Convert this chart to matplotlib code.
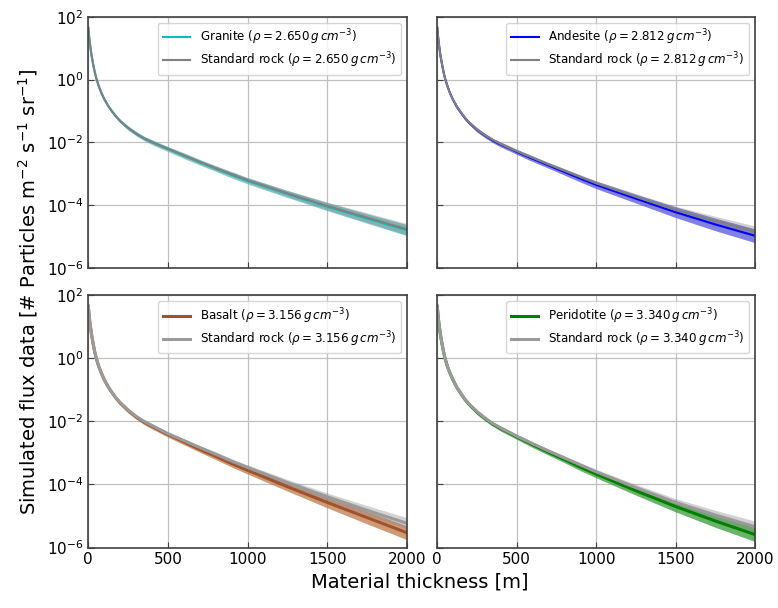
import numpy as np
import matplotlib
matplotlib.use('Agg')
import matplotlib.pyplot as plt

# thickness sample points [m]
thickness = [0, 5, 10, 20, 30, 40, 50, 65, 80, 100, 125, 150, 175, 200, 250, 300, 350,
             400, 450, 500, 600, 700, 800, 900, 1000, 1250, 1500, 1750, 2000]

# log10 of flux
granite = [1.65, 1.38, 1.15, 0.78, 0.50, 0.25, 0.04, -0.20, -0.40, -0.62, -0.84, -1.02, -1.18, -1.32, -1.54,
           -1.72, -1.87, -1.99, -2.10, -2.21, -2.42, -2.63, -2.83, -3.03, -3.22, -3.64, -4.04, -4.42, -4.79]
granite_std = [1.65, 1.38, 1.15, 0.78, 0.50, 0.25, 0.04, -0.20, -0.40, -0.62, -0.84, -1.02, -1.18, -1.32, -1.54,
               -1.72, -1.87, -1.99, -2.10, -2.20, -2.41, -2.62, -2.82, -3.01, -3.20, -3.62, -4.02, -4.39, -4.76]
andesite = [1.65, 1.38, 1.15, 0.77, 0.49, 0.23, 0.02, -0.22, -0.43, -0.65, -0.88, -1.06, -1.23, -1.37, -1.60,
            -1.78, -1.94, -2.07, -2.18, -2.30, -2.52, -2.73, -2.94, -3.15, -3.35, -3.79, -4.22, -4.61, -4.97]
andesite_std = [1.65, 1.38, 1.15, 0.77, 0.49, 0.23, 0.02, -0.22, -0.43, -0.65, -0.87, -1.05, -1.22, -1.36, -1.59,
                -1.77, -1.92, -2.05, -2.17, -2.28, -2.49, -2.70, -2.90, -3.10, -3.30, -3.73, -4.15, -4.50, -4.84]
basalt = [1.65, 1.37, 1.13, 0.76, 0.47, 0.21, 0.00, -0.25, -0.45, -0.68, -0.91, -1.10, -1.27, -1.42, -1.66,
          -1.86, -2.03, -2.16, -2.29, -2.42, -2.65, -2.89, -3.11, -3.34, -3.55, -4.07, -4.57, -5.05, -5.53]
basalt_std = [1.65, 1.37, 1.13, 0.76, 0.47, 0.21, 0.00, -0.25, -0.45, -0.67, -0.90, -1.09, -1.26, -1.40, -1.64,
              -1.84, -2.00, -2.13, -2.26, -2.39, -2.61, -2.83, -3.04, -3.26, -3.46, -3.94, -4.39, -4.82, -5.23]
peridotite = [1.65, 1.37, 1.13, 0.75, 0.46, 0.20, -0.02, -0.27, -0.47, -0.70, -0.94, -1.13, -1.31, -1.46, -1.71,
              -1.91, -2.09, -2.23, -2.36, -2.49, -2.74, -2.98, -3.21, -3.45, -3.67, -4.20, -4.70, -5.16, -5.59]
peridotite_std = [1.65, 1.37, 1.13, 0.75, 0.46, 0.20, -0.02, -0.27, -0.47, -0.69, -0.93, -1.12, -1.30, -1.45, -1.69,
                  -1.89, -2.07, -2.21, -2.34, -2.47, -2.71, -2.94, -3.16, -3.38, -3.60, -4.10, -4.57, -4.97, -5.34]

# half width of the shaded bands (decades)
err_granite = [0.05, 0.05, 0.05, 0.05, 0.05, 0.05, 0.05, 0.05, 0.05, 0.05, 0.06, 0.06, 0.06, 0.06, 0.07,
               0.07, 0.07, 0.08, 0.08, 0.08, 0.09, 0.09, 0.09, 0.10, 0.10, 0.11, 0.13, 0.15, 0.175]
err_rock = [0.05, 0.05, 0.05, 0.05, 0.05, 0.05, 0.05, 0.05, 0.05, 0.05, 0.06, 0.06, 0.06, 0.06, 0.07,
            0.07, 0.07, 0.08, 0.08, 0.08, 0.09, 0.09, 0.10, 0.11, 0.12, 0.14, 0.17, 0.20, 0.22]
err_std = [0.03, 0.03, 0.03, 0.03, 0.03, 0.03, 0.03, 0.03, 0.03, 0.03, 0.04, 0.04, 0.04, 0.04, 0.04,
           0.04, 0.05, 0.05, 0.05, 0.05, 0.06, 0.06, 0.07, 0.07, 0.08, 0.10, 0.12, 0.15, 0.18]

names = ['Granite', 'Andesite', 'Basalt', 'Peridotite']
densities = ['2.650', '2.812', '3.156', '3.340']
colors = ['c', 'b', 'sienna', 'green']
fills = ['#5cbcbc', '#5555e0', '#c07a4a', '#3a9a3a']
mats = [granite, andesite, basalt, peridotite]
stds = [granite_std, andesite_std, basalt_std, peridotite_std]
errs = [err_granite, err_rock, err_rock, err_rock]

fig = plt.figure(figsize=(7.78, 6.08), dpi=100)
positions = [[0.1135, 0.5590, 0.4093, 0.4135],
             [0.5620, 0.5590, 0.4085, 0.4135],
             [0.1135, 0.0995, 0.4093, 0.4150],
             [0.5620, 0.0995, 0.4085, 0.4150]]

x = np.array(thickness)
for i in range(4):
    ax = fig.add_axes(positions[i])
    m = np.array(mats[i]); s = np.array(stds[i]); e = np.array(errs[i]); es = np.array(err_std)
    lw = 1.5 if i < 2 else 2.2
    std_col = 'gray' if i < 2 else '#9a9a9a'
    ax.fill_between(x, 10**(m - e), 10**(m + e), color=fills[i], alpha=0.75, lw=0)
    ax.plot(x, 10**m, color=colors[i], lw=lw,
            label=names[i] + r' ($\rho = %s\,g\,cm^{-3}$)' % densities[i])
    ax.fill_between(x, 10**(s - es), 10**(s + es), color='gray', alpha=0.35, lw=0)
    ax.plot(x, 10**s, color=std_col, lw=lw,
            label=r'Standard rock ($\rho = %s\,g\,cm^{-3}$)' % densities[i])
    ax.set_yscale('log')
    ax.set_xlim(0, 2000)
    ax.set_ylim(1e-6, 1e2)
    ax.set_yticks([1e-6, 1e-4, 1e-2, 1e0, 1e2])
    ax.set_xticks([0, 500, 1000, 1500, 2000])
    ax.minorticks_off()
    ax.grid(True, color='#c0c0c0', lw=0.9)
    ax.set_axisbelow(True)
    ax.tick_params(direction='in', labelsize=11, length=4, color='0.25')
    for sp in ax.spines.values():
        sp.set_color('0.25')
        sp.set_linewidth(1.2)
    if i < 2:
        ax.set_xticklabels([])
    if i % 2 == 1:
        ax.set_yticklabels([])
    ax.legend(loc='upper right', fontsize=8.6, framealpha=0.8, edgecolor='#cccccc',
              handlelength=2.3, labelspacing=0.3)

fig.text(0.54, 0.042, 'Material thickness [m]', ha='center', va='center', fontsize=14)
fig.text(0.036, 0.52, r'Simulated flux data [# Particles m$^{-2}$ s$^{-1}$ sr$^{-1}$]',
         ha='center', va='center', rotation=90, fontsize=14)

fig.savefig('out.png', dpi=100)
